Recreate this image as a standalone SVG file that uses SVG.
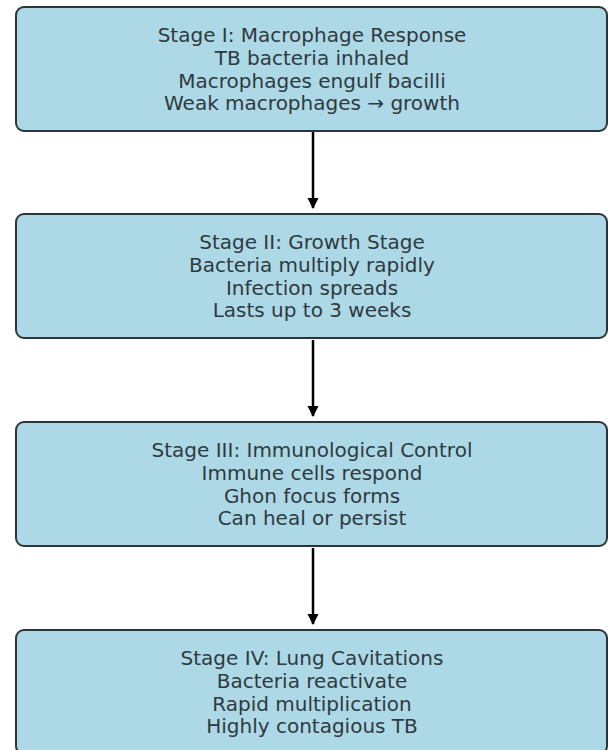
<svg xmlns="http://www.w3.org/2000/svg" width="609" height="750" viewBox="0 0 609 750">
<style>
.box{fill:#add8e6;stroke:#2f3436;stroke-width:2}
.t{font-family:"DejaVu Sans",sans-serif;font-size:20px;fill:#2f3a40;text-anchor:middle}
.c{stroke:#000;stroke-width:2.5;fill:none;marker-end:url(#ah)}
</style>
<defs>
<marker id="ah" markerWidth="12" markerHeight="12" refX="10" refY="6" orient="auto" markerUnits="userSpaceOnUse">
<path d="M0,0.5 L11,6 L0,11.5 Z" fill="#000"/>
</marker>
</defs>
<rect width="609" height="750" fill="#fff"/>
<g id="connectors">
<line class="c" x1="313" y1="132" x2="313" y2="208"/>
<line class="c" x1="313" y1="340" x2="313" y2="416"/>
<line class="c" x1="313" y1="548" x2="313" y2="624"/>
</g>
<g id="stage1">
<rect class="box" x="16" y="7" width="591" height="124" rx="8"/>
<text class="t" x="312" y="42">Stage I: Macrophage Response</text>
<text class="t" x="312" y="65">TB bacteria inhaled</text>
<text class="t" x="312" y="88">Macrophages engulf bacilli</text>
<text class="t" x="312" y="110">Weak macrophages → growth</text>
</g>
<g id="stage2">
<rect class="box" x="16" y="214" width="591" height="124" rx="8"/>
<text class="t" x="312" y="249">Stage II: Growth Stage</text>
<text class="t" x="312" y="272">Bacteria multiply rapidly</text>
<text class="t" x="312" y="295">Infection spreads</text>
<text class="t" x="312" y="317">Lasts up to 3 weeks</text>
</g>
<g id="stage3">
<rect class="box" x="16" y="422" width="591" height="124" rx="8"/>
<text class="t" x="312" y="457">Stage III: Immunological Control</text>
<text class="t" x="312" y="480">Immune cells respond</text>
<text class="t" x="312" y="503">Ghon focus forms</text>
<text class="t" x="312" y="525">Can heal or persist</text>
</g>
<g id="stage4">
<rect class="box" x="16" y="630" width="591" height="124" rx="8"/>
<text class="t" x="312" y="665">Stage IV: Lung Cavitations</text>
<text class="t" x="312" y="688">Bacteria reactivate</text>
<text class="t" x="312" y="711">Rapid multiplication</text>
<text class="t" x="312" y="733">Highly contagious TB</text>
</g>
</svg>
